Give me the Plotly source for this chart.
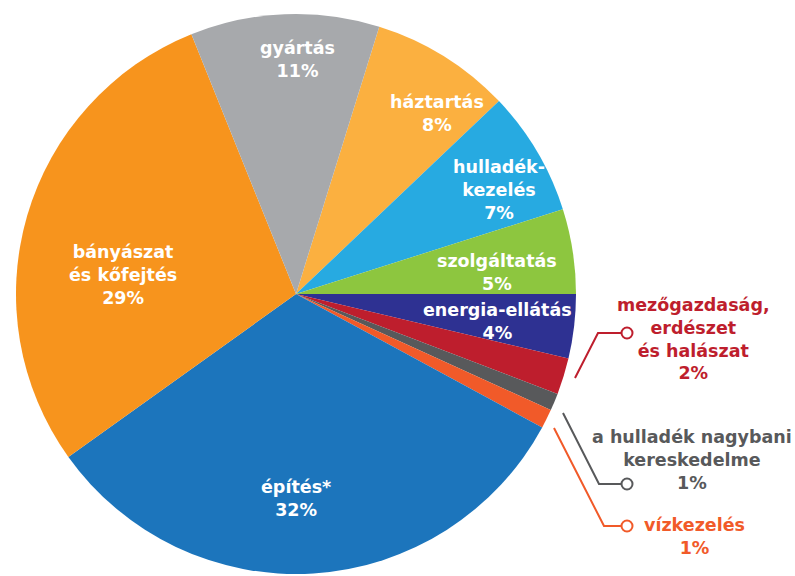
import plotly.graph_objects as go

# Data (clockwise from the top, starting with "háztartás")
categories = ["háztartás", "hulladékkezelés", "szolgáltatás", "energia-ellátás",
              "mezőgazdaság, erdészet és halászat", "a hulladék nagybani kereskedelme",
              "vízkezelés", "építés*", "bányászat és kőfejtés", "gyártás"]
values = [8.1, 7.2, 4.9, 3.7, 2.1, 1.0, 1.1, 32.2, 28.8, 10.9]
pct_labels = ["8%", "7%", "5%", "4%", "2%", "1%", "1%", "32%", "29%", "11%"]
label_text = ["háztartás", "hulladék-<br>kezelés", "szolgáltatás", "energia-ellátás",
              "mezőgazdaság,<br>erdészet<br>és halászat", "a hulladék nagybani<br>kereskedelme",
              "vízkezelés", "építés*", "bányászat<br>és kőfejtés", "gyártás"]
colors = ["#FBB040", "#27AAE1", "#8DC63F", "#2E3192", "#BE1E2D", "#58595B",
          "#F15A29", "#1C75BC", "#F7941D", "#A7A9AC"]

W, H = 795, 576
CX, CY, R = 296, 294, 280

def px(x):
    return x / W

def py(y):
    return 1 - y / H

fig = go.Figure(go.Pie(
    labels=categories, values=values, sort=False, direction="clockwise",
    rotation=17.3, marker=dict(colors=colors, line=dict(width=0)),
    textinfo="none", hoverinfo="label+percent",
    domain=dict(x=[px(CX - R), px(CX + R)], y=[py(CY + R), py(CY - R)]),
))

FONT = "DejaVu Sans"
FS = 17.5

# label positions (pixel centres) and colours
label_pos = [(437, 114), (499, 190), (497, 272), (497, 321),
             (693, 339), (692, 460), (694, 536), (296, 498), (123, 275), (297, 60)]
label_col = ["white", "white", "white", "white", "#BE1E2D", "#58595B", "#F15A29",
             "white", "white", "white"]

annotations = []
for txt, pct, (x, y), c in zip(label_text, pct_labels, label_pos, label_col):
    annotations.append(dict(
        x=px(x), y=py(y), xref="paper", yref="paper", xanchor="center", yanchor="middle",
        text=f"<b>{txt}<br>{pct}</b>", showarrow=False, align="center",
        font=dict(family=FONT, size=FS, color=c),
    ))

shapes = []
leaders = [
    ("#BE1E2D", [(575, 378), (598, 333), (622, 333)], (627, 333)),
    ("#58595B", [(563, 413), (599, 484), (622, 484)], (627, 484)),
    ("#F15A29", [(554, 428), (604, 526), (622, 526)], (627, 526)),
]
for col, pts, (ccx, ccy) in leaders:
    path = "M " + " L ".join(f"{px(x)},{py(y)}" for x, y in pts)
    shapes.append(dict(type="path", path=path, xref="paper", yref="paper",
                       line=dict(color=col, width=2)))
    r = 5.5
    shapes.append(dict(type="circle", xref="paper", yref="paper",
                       x0=px(ccx - r), x1=px(ccx + r), y0=py(ccy + r), y1=py(ccy - r),
                       line=dict(color=col, width=2), fillcolor="white"))

fig.update_layout(
    width=W, height=H, margin=dict(l=0, r=0, t=0, b=0),
    paper_bgcolor="white", plot_bgcolor="white", showlegend=False,
    annotations=annotations, shapes=shapes,
)

fig.write_html("out.html")
